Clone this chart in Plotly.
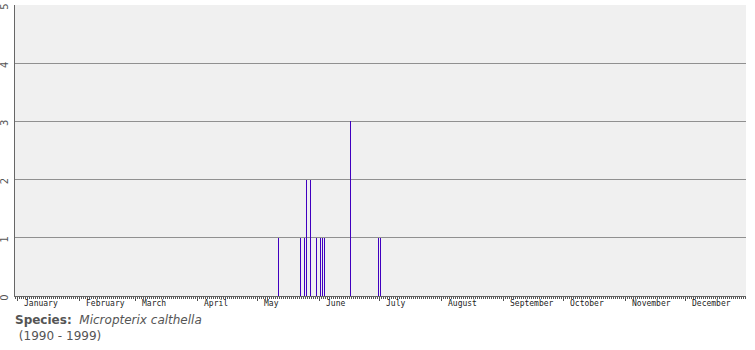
import datetime as dt
import plotly.graph_objects as go

# ---- data ----
record_dates = ["May 11", "May 22", "May 24", "May 25", "May 27", "May 30",
                "Jun 1", "Jun 2", "Jun 3", "Jun 16", "Jun 30", "Jul 1"]
record_counts = [1, 1, 1, 2, 2, 1, 1, 1, 1, 3, 1, 1]
month_names = ["January", "February", "March", "April", "May", "June",
               "July", "August", "September", "October", "November", "December"]
y_ticks = [0, 1, 2, 3, 4, 5]

YEAR = 2001  # non-leap reference year


def doy(s):
    d = dt.datetime.strptime(f"{s} {YEAR}", "%b %d %Y")
    return (d - dt.datetime(YEAR, 1, 1)).days


bar_x = [doy(s) + 0.75 for s in record_dates]
month_starts = [(dt.datetime(YEAR, m, 1) - dt.datetime(YEAR, 1, 1)).days for m in range(1, 13)]

fig = go.Figure()
fig.add_trace(go.Bar(
    x=bar_x, y=record_counts, width=0.5,
    marker=dict(color="#4000C0", line=dict(width=0)),
    hoverinfo="skip",
))

for name, start in zip(month_names, month_starts):
    fig.add_annotation(
        x=start + 2.5, y=0, xref="x", yref="paper",
        text=name, showarrow=False, xanchor="left", yanchor="top",
        yshift=-1, font=dict(family="DejaVu Sans Mono", size=8, color="#222222"),
    )

fig.add_annotation(
    x=0, y=0, xref="paper", yref="paper", xanchor="left", yanchor="top",
    xshift=-2, yshift=-15, align="left", showarrow=False,
    text="<b>Species:</b>  <i>Micropterix calthella</i><br> (1990 - 1999)",
    font=dict(family="DejaVu Sans", size=12, color="#555555"),
)

fig.update_layout(
    width=755, height=350,
    margin=dict(l=15, r=9, t=5, b=54, autoexpand=False),
    paper_bgcolor="white", plot_bgcolor="#F0F0F0",
    showlegend=False, bargap=0,
    xaxis=dict(
        range=[-1, 364.5], showgrid=False, zeroline=False, automargin=False,
        showline=True, linecolor="#666666", linewidth=1,
        tickmode="array", tickvals=month_starts, ticks="outside",
        ticklen=4, tickcolor="#555555", tickwidth=1, showticklabels=False,
        minor=dict(tickmode="linear", tick0=0, dtick=1, ticks="outside",
                   ticklen=2, tickcolor="#555555", tickwidth=1, showgrid=False),
    ),
    yaxis=dict(
        range=[0, 5], tickmode="array", tickvals=y_ticks, automargin=False,
        showgrid=True, gridcolor="#909090", gridwidth=1, zeroline=False,
        showline=True, linecolor="#666666", linewidth=1,
        ticks="", tickangle=-90, ticklabelstandoff=2, ticklabelshift=3,
        tickfont=dict(family="DejaVu Sans", size=10, color="#555555"),
    ),
)

fig.write_html("out.html")
